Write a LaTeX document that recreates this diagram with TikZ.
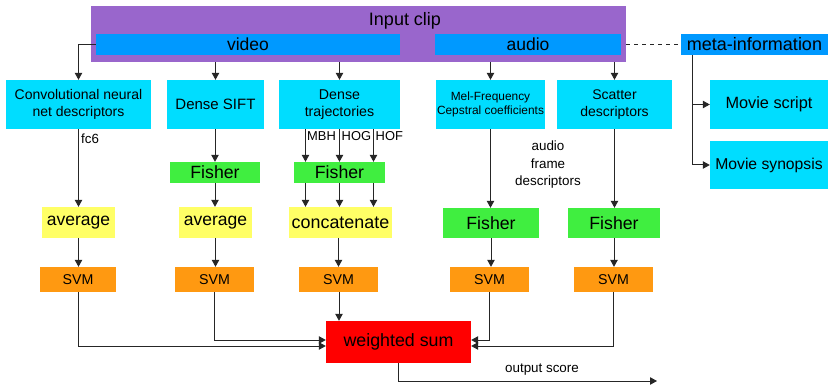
\documentclass[tikz,border=0pt]{standalone}
\usepackage{fontspec}
\setmainfont{Liberation Sans}
\usetikzlibrary{arrows.meta}
\definecolor{cpurple}{RGB}{153,102,204}
\definecolor{cblue}{RGB}{0,153,255}
\definecolor{ccyan}{RGB}{0,221,255}
\definecolor{cgreen}{RGB}{64,238,64}
\definecolor{cyellow}{RGB}{255,255,102}
\definecolor{corange}{RGB}{255,153,17}
\definecolor{cred}{RGB}{255,0,0}
\begin{document}
\begin{tikzpicture}[x=1pt,y=-1pt,
  box/.style={inner sep=0pt, align=center, text=black},
  arr/.style={-{Triangle[length=7pt,width=7.5pt]}, line width=1pt, draw=black!85},
  ln/.style={line width=1pt, draw=black!85},
  lbl/.style={inner sep=0pt, align=center, text=black}]
\useasboundingbox (0,0) rectangle (828,385);

% input clip
\node[box, fill=cpurple, minimum width=535pt, minimum height=56pt] (clip) at (358.5,34) {};
\node[lbl, font=\fontsize{18}{21}\selectfont] (cliplbl) at (405,21) {Input clip};
\node[box, fill=cblue, minimum width=304pt, minimum height=21pt, font=\fontsize{17.5}{20}\selectfont] (video) at (248,44.5) {video};
\node[box, fill=cblue, minimum width=186pt, minimum height=21pt, font=\fontsize{17.5}{20}\selectfont] (audio) at (528,44.5) {audio};
\node[box, fill=cblue, minimum width=147pt, minimum height=21pt, font=\fontsize{18}{20}\selectfont] (meta) at (754.5,44.5) {meta-information};

% descriptor boxes
\node[box, fill=ccyan, minimum width=145pt, minimum height=49pt, font=\fontsize{14}{17}\selectfont] (cnn) at (78.5,104.5) {Convolutional neural\\net descriptors};
\node[box, fill=ccyan, minimum width=97pt, minimum height=49pt, font=\fontsize{15}{18}\selectfont] (sift) at (215.5,104.5) {Dense SIFT};
\node[box, fill=ccyan, minimum width=121pt, minimum height=49pt, font=\fontsize{14.2}{17}\selectfont] (dt) at (339.5,104.5) {Dense\\trajectories};
\node[box, fill=ccyan, minimum width=109pt, minimum height=49pt, font=\fontsize{11.9}{14.5}\selectfont] (mfcc) at (490.5,104.5) {Mel-Frequency\\Cepstral coefficients};
\node[box, fill=ccyan, minimum width=115pt, minimum height=49pt, font=\fontsize{14}{17}\selectfont] (scatter) at (614.5,104.5) {Scatter\\descriptors};
\node[box, fill=ccyan, minimum width=118pt, minimum height=49pt, font=\fontsize{16.3}{19}\selectfont] (script) at (769,104.5) {Movie script};
\node[box, fill=ccyan, minimum width=118pt, minimum height=48pt, font=\fontsize{15.7}{19}\selectfont] (synopsis) at (769,165) {Movie synopsis};

% fisher (upper)
\node[box, fill=cgreen, minimum width=90pt, minimum height=21pt, font=\fontsize{17.7}{20}\selectfont] (fisher1) at (215,172.5) {Fisher};
\node[box, fill=cgreen, minimum width=91pt, minimum height=21pt, font=\fontsize{17.7}{20}\selectfont] (fisher2) at (339.5,172.5) {Fisher};

% aggregation
\node[box, fill=cyellow, minimum width=73pt, minimum height=31pt, font=\fontsize{17.5}{20}\selectfont] (avg1) at (78.5,222.5) {average};
\node[box, fill=cyellow, minimum width=73pt, minimum height=31pt, font=\fontsize{17.5}{20}\selectfont] (avg2) at (215.5,222.5) {average};
\node[box, fill=cyellow, minimum width=103pt, minimum height=31pt, font=\fontsize{17.9}{20}\selectfont] (concat) at (340.5,222.5) {concatenate};
\node[box, fill=cgreen, minimum width=96pt, minimum height=30pt, font=\fontsize{17.7}{20}\selectfont] (fisher3) at (491,223) {Fisher};
\node[box, fill=cgreen, minimum width=92pt, minimum height=30pt, font=\fontsize{17.7}{20}\selectfont] (fisher4) at (614,223) {Fisher};

% SVMs
\node[box, fill=corange, minimum width=76pt, minimum height=25pt, font=\fontsize{14.2}{17}\selectfont] (svm1) at (78,279.5) {SVM};
\node[box, fill=corange, minimum width=79pt, minimum height=25pt, font=\fontsize{14.2}{17}\selectfont] (svm2) at (214.5,279.5) {SVM};
\node[box, fill=corange, minimum width=79pt, minimum height=25pt, font=\fontsize{14.2}{17}\selectfont] (svm3) at (338.5,279.5) {SVM};
\node[box, fill=corange, minimum width=79pt, minimum height=25pt, font=\fontsize{14.2}{17}\selectfont] (svm4) at (489.5,279.5) {SVM};
\node[box, fill=corange, minimum width=79pt, minimum height=25pt, font=\fontsize{14.2}{17}\selectfont] (svm5) at (613.5,279.5) {SVM};

% weighted sum
\node[box, fill=cred, minimum width=145pt, minimum height=42pt, font=\fontsize{17.8}{20}\selectfont] (ws) at (398.5,342) {weighted sum};

% connectors: clip -> descriptors
\draw[arr] (video.west) -| (cnn.north);
\draw[arr] (sift.north |- clip.south) -- (sift.north);
\draw[arr] (dt.north |- clip.south) -- (dt.north);
\draw[arr] (mfcc.north |- clip.south) -- (mfcc.north);
\draw[arr] (scatter.north |- clip.south) -- (scatter.north);

% meta information
\draw[ln, dash pattern=on 4pt off 4pt] (clip.east |- meta.west) -- (meta.west);
\coordinate (mroot) at ([xshift=12pt]meta.south west);
\draw[arr] (mroot) |- (script.west);
\draw[arr] (mroot) |- (synopsis.west);

% CNN branch
\draw[arr] (cnn.south) -- (cnn.south |- avg1.north);
\node[lbl, anchor=west, font=\fontsize{13.3}{16}\selectfont] (fc6) at (81,139) {fc6};
\draw[arr] (avg1.south) -- (avg1.south |- svm1.north);

% SIFT branch
\draw[arr] (fisher1.north |- sift.south) -- (fisher1.north);
\draw[arr] (fisher1.south) -- (fisher1.south |- avg2.north);
\draw[arr] (avg2.south) -- (avg2.south |- svm2.north);

% DT branch
\foreach \dx in {-34,0,34} {
  \draw[arr] ([xshift=\dx pt]fisher2.north |- dt.south) -- ([xshift=\dx pt]fisher2.north);
  \draw[arr] ([xshift=\dx pt]fisher2.south) -- ([xshift=\dx pt]fisher2.south |- concat.north);
}
\node[lbl, anchor=west, font=\fontsize{12.9}{15}\selectfont] (mbh) at (307,136) {MBH};
\node[lbl, anchor=west, font=\fontsize{12.9}{15}\selectfont] (hog) at (341.5,136) {HOG};
\node[lbl, anchor=west, font=\fontsize{12.9}{15}\selectfont] (hof) at (375.5,136) {HOF};
\draw[arr] (concat.south -| svm3.north) -- (svm3.north);

% audio branches
\draw[arr] (mfcc.south) -- (mfcc.south |- fisher3.north);
\draw[arr] (scatter.south) -- (scatter.south |- fisher4.north);
\node[lbl, font=\fontsize{13.4}{17.5}\selectfont] (afd) at (548,165) {audio\\frame\\descriptors};
\draw[arr] (fisher3.south) -- (fisher3.south |- svm4.north);
\draw[arr] (fisher4.south) -- (fisher4.south |- svm5.north);

% SVMs -> weighted sum
\draw[arr] (svm1.south) |- ([yshift=-4pt]ws.west);
\draw[arr] (svm2.south) |- ([yshift=2pt]ws.west);
\draw[arr] (svm3.south -| 339,0) -- (339,0 |- ws.north);
\draw[arr] (svm4.south) |- ([yshift=2pt]ws.east);
\draw[arr] (svm5.south) |- ([yshift=-4pt]ws.east);

% output
\coordinate (outend) at (657,381);
\draw[arr] (ws.south) |- (outend);
\node[lbl, font=\fontsize{13.4}{16}\selectfont] (outlbl) at (542,370) {output score};
\end{tikzpicture}
\end{document}
